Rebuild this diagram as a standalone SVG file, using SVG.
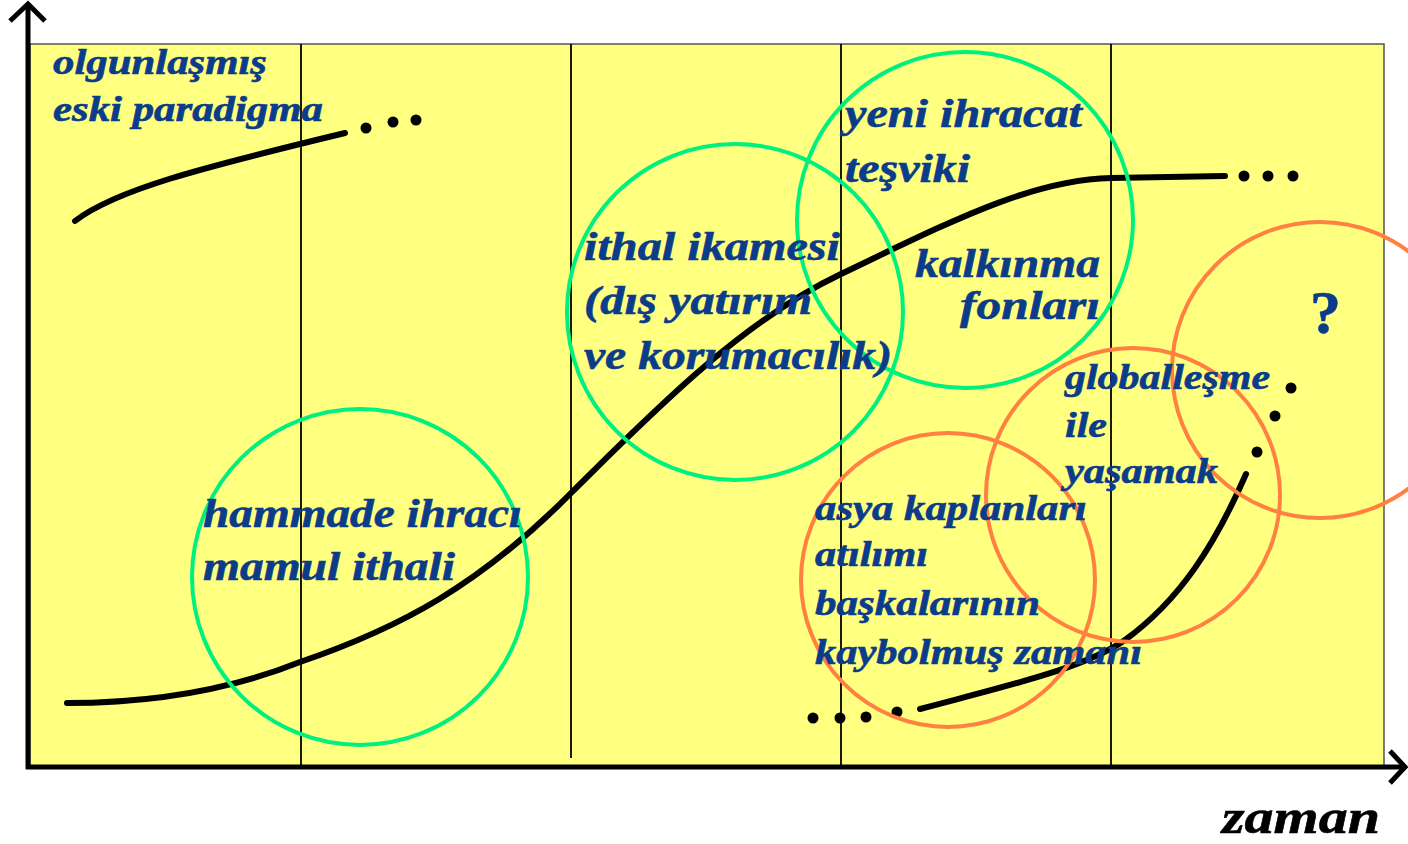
<svg xmlns="http://www.w3.org/2000/svg" width="1408" height="844" viewBox="0 0 1408 844">
<style>
.lbl{font-family:"Liberation Serif","Times New Roman",serif;font-weight:bold;font-style:italic;fill:#0a3c8a;font-size:40px;stroke:#0a3c8a;stroke-width:0.6}
.sm{font-size:35px}
.grid{stroke:#000;stroke-width:1.8;fill:none}
.axis{stroke:#000;stroke-width:5;fill:none}
.curve{stroke:#000;stroke-width:6;fill:none;stroke-linecap:round}
.g{fill:none;stroke:#00f080;stroke-width:4}
.o{fill:none;stroke:#ff8040;stroke-width:4}
.dot{fill:#000}
</style>
<rect id="panel" x="30" y="44" width="1354" height="723" fill="#ffff80" stroke="#555" stroke-width="1.5"/>
<g id="gridlines">
<line class="grid" x1="301" y1="44" x2="301" y2="767"/>
<line class="grid" x1="571" y1="44" x2="571" y2="758"/>
<line class="grid" x1="841" y1="44" x2="841" y2="767"/>
<line class="grid" x1="1111" y1="44" x2="1111" y2="767"/>
</g>
<g id="axes">
<line class="axis" x1="28" y1="5" x2="28" y2="769"/>
<line class="axis" x1="26" y1="767" x2="1403" y2="767"/>
<polyline class="axis" points="10,21 28,4 45,21" stroke-width="4"/>
<polyline class="axis" points="1390,751 1405,767 1390,783" stroke-width="4"/>
</g>
<g id="curves">
<path class="curve" d="M75,221 C115,190 200,168 345,133"/>
<path class="curve" d="M67,703 C150,703 230,690 300,662 C400,628 480,585 571,493 C650,415 740,322 841,274 C950,222 1030,180 1111,178 L1225,176"/>
<path class="curve" d="M920,709 C1010,685 1085,668 1125,640 C1180,600 1215,545 1246,474"/>
</g>
<g id="dots">
<circle class="dot" cx="366" cy="128" r="5.5"/>
<circle class="dot" cx="393" cy="122" r="5.5"/>
<circle class="dot" cx="416" cy="120" r="5.5"/>
<circle class="dot" cx="1244" cy="176" r="5.5"/>
<circle class="dot" cx="1268" cy="176" r="5.5"/>
<circle class="dot" cx="1293" cy="176" r="5.5"/>
<circle class="dot" cx="813" cy="718" r="5.5"/>
<circle class="dot" cx="840" cy="718" r="5.5"/>
<circle class="dot" cx="866" cy="717" r="5.5"/>
<circle class="dot" cx="897" cy="712" r="5.5"/>
<circle class="dot" cx="1257" cy="452" r="5.5"/>
<circle class="dot" cx="1275" cy="416" r="5.5"/>
<circle class="dot" cx="1291" cy="388" r="5.5"/>
</g>
<g id="circles">
<circle class="g" cx="360" cy="577" r="168"/>
<circle class="g" cx="735" cy="312" r="168"/>
<circle class="g" cx="965" cy="220" r="168"/>
<circle class="o" cx="948" cy="580" r="147"/>
<circle class="o" cx="1133" cy="495" r="147"/>
<circle class="o" cx="1320" cy="370" r="148"/>
</g>
<g id="label-eski">
<text class="lbl sm" x="53" y="74" textLength="214" lengthAdjust="spacingAndGlyphs">olgunlaşmış</text>
<text class="lbl sm" x="53" y="121" textLength="270" lengthAdjust="spacingAndGlyphs">eski paradigma</text>
</g>
<g id="label-hammade">
<text class="lbl" x="203" y="527" textLength="319" lengthAdjust="spacingAndGlyphs">hammade ihracı</text>
<text class="lbl" x="203" y="580" textLength="252" lengthAdjust="spacingAndGlyphs">mamul ithali</text>
</g>
<g id="label-ithal">
<text class="lbl" x="584" y="260" textLength="256" lengthAdjust="spacingAndGlyphs">ithal ikamesi</text>
<text class="lbl" x="584" y="314" textLength="228" lengthAdjust="spacingAndGlyphs">(dış yatırım</text>
<text class="lbl" x="584" y="369" textLength="308" lengthAdjust="spacingAndGlyphs">ve korumacılık)</text>
</g>
<g id="label-yeni">
<text class="lbl" x="845" y="127" textLength="237" lengthAdjust="spacingAndGlyphs">yeni ihracat</text>
<text class="lbl" x="845" y="182" textLength="125" lengthAdjust="spacingAndGlyphs">teşviki</text>
</g>
<g id="label-kalkinma">
<text class="lbl" x="915" y="277" textLength="185" lengthAdjust="spacingAndGlyphs">kalkınma</text>
<text class="lbl" x="960" y="319" textLength="140" lengthAdjust="spacingAndGlyphs">fonları</text>
</g>
<g id="label-asya">
<text class="lbl sm" x="815" y="520" textLength="272" lengthAdjust="spacingAndGlyphs">asya kaplanları</text>
<text class="lbl sm" x="815" y="566" textLength="113" lengthAdjust="spacingAndGlyphs">atılımı</text>
<text class="lbl sm" x="815" y="615" textLength="225" lengthAdjust="spacingAndGlyphs">başkalarının</text>
<text class="lbl sm" x="815" y="664" textLength="327" lengthAdjust="spacingAndGlyphs">kaybolmuş zamanı</text>
</g>
<g id="label-global">
<text class="lbl sm" x="1065" y="389" textLength="205" lengthAdjust="spacingAndGlyphs">globalleşme</text>
<text class="lbl sm" x="1065" y="437" textLength="42" lengthAdjust="spacingAndGlyphs">ile</text>
<text class="lbl sm" x="1065" y="483" textLength="153" lengthAdjust="spacingAndGlyphs">yaşamak</text>
</g>
<g id="label-question">
<text class="lbl" x="1310" y="333" style="font-size:62px;font-style:normal">?</text>
</g>
<g id="label-zaman">
<text class="lbl" x="1222" y="833" textLength="158" lengthAdjust="spacingAndGlyphs" style="fill:#000;stroke:#000;font-size:48px">zaman</text>
</g>
</svg>
